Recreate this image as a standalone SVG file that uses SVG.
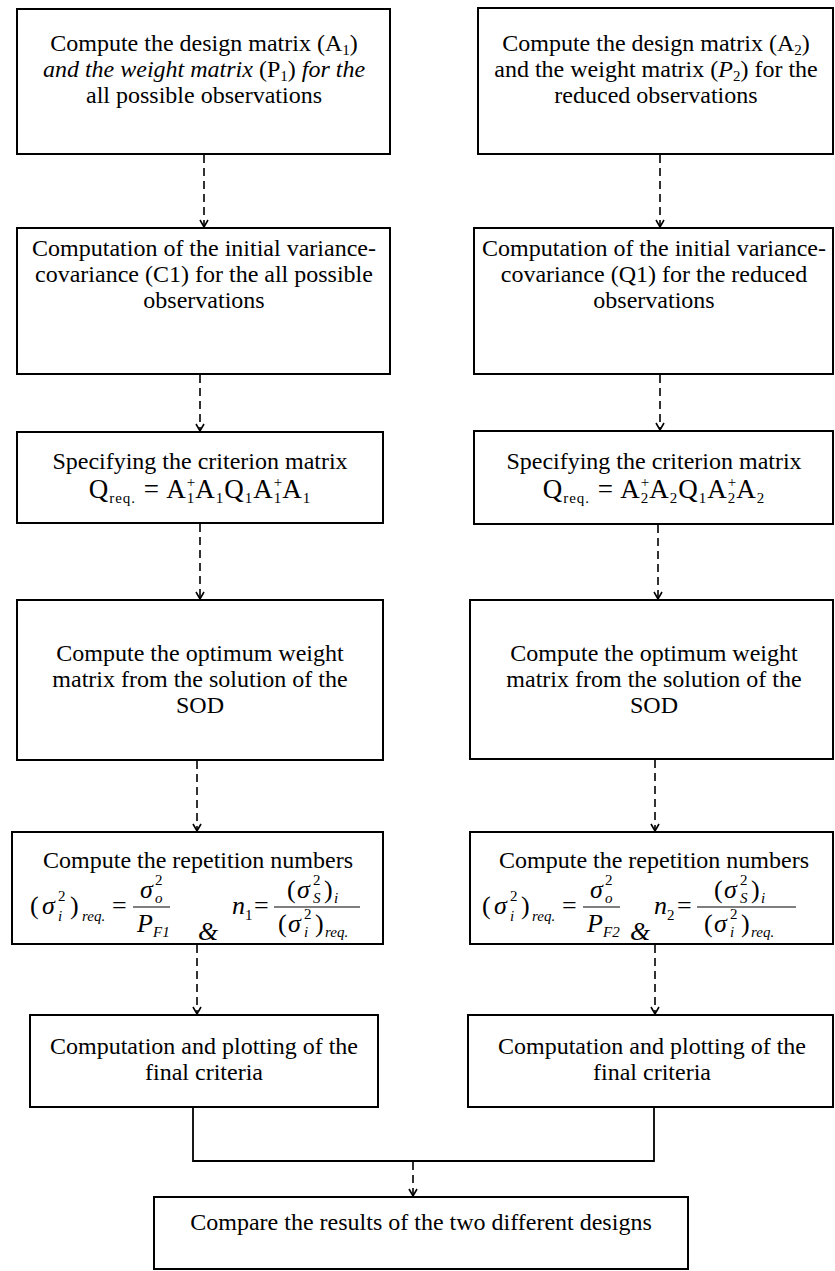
<svg xmlns="http://www.w3.org/2000/svg" width="835" height="1271" viewBox="0 0 835 1271">
<defs>
<marker id="ahd" markerUnits="userSpaceOnUse" markerWidth="12" markerHeight="10" refX="5" refY="8" orient="0" viewBox="0 0 10 10">
<path d="M1,1 L5,8 L9,1" fill="none" stroke="#000" stroke-width="1.6"/>
</marker>
</defs>
<style>
.box{fill:#fff;stroke:#000;stroke-width:2}
.t{font-family:"Liberation Serif","Times New Roman",serif;font-size:24px;fill:#000;text-anchor:middle}
.f{font-family:"Liberation Serif","Times New Roman",serif;font-size:27px;fill:#000;text-anchor:middle;letter-spacing:1px}
.m{font-family:"Liberation Serif","Times New Roman",serif;font-size:26px;fill:#000}
.i{font-style:italic}
.s{font-size:15px}
.dash{fill:none;stroke:#000;stroke-width:1.6;stroke-dasharray:8 5}
.solid{fill:none;stroke:#000;stroke-width:1.8}
.bar{stroke:#000;stroke-width:1.2}
</style>

<g id="connectors">
<line class="dash" x1="204" y1="155" x2="204" y2="227" marker-end="url(#ahd)"/>
<line class="dash" x1="660" y1="155" x2="660" y2="227" marker-end="url(#ahd)"/>
<line class="dash" x1="200" y1="375" x2="200" y2="431" marker-end="url(#ahd)"/>
<line class="dash" x1="660" y1="375" x2="660" y2="430" marker-end="url(#ahd)"/>
<line class="dash" x1="200" y1="524" x2="200" y2="599" marker-end="url(#ahd)"/>
<line class="dash" x1="658" y1="525" x2="658" y2="599" marker-end="url(#ahd)"/>
<line class="dash" x1="197" y1="761" x2="197" y2="831" marker-end="url(#ahd)"/>
<line class="dash" x1="655" y1="760" x2="655" y2="831" marker-end="url(#ahd)"/>
<line class="dash" x1="197" y1="945" x2="197" y2="1014" marker-end="url(#ahd)"/>
<line class="dash" x1="655" y1="945" x2="655" y2="1014" marker-end="url(#ahd)"/>
<polyline class="solid" points="193,1107 193,1161 654,1161 654,1107"/>
<line class="dash" x1="413" y1="1162" x2="413" y2="1196" marker-end="url(#ahd)"/>
</g>

<g id="n1L">
<rect class="box" x="17" y="9" width="373" height="145"/>
<text class="t" x="204" y="51">Compute the design matrix (A<tspan class="s" dy="4">1</tspan><tspan dy="-4">)</tspan></text>
<text class="t i" x="204" y="77">and the weight matrix <tspan font-style="normal">(P</tspan><tspan class="s" font-style="normal" dy="4">1</tspan><tspan font-style="normal" dy="-4">)</tspan> for the</text>
<text class="t" x="204" y="103">all possible observations</text>
</g>

<g id="n1R">
<rect class="box" x="478" y="8" width="355" height="146"/>
<text class="t" x="656" y="51">Compute the design matrix (A<tspan class="s" dy="4">2</tspan><tspan dy="-4">)</tspan></text>
<text class="t" x="656" y="77">and the weight matrix (<tspan class="i">P</tspan><tspan class="s" dy="4">2</tspan><tspan dy="-4">) for the</tspan></text>
<text class="t" x="656" y="103">reduced observations</text>
</g>

<g id="n2L">
<rect class="box" x="17" y="228" width="373" height="146"/>
<text class="t" x="204" y="256">Computation of the initial variance-</text>
<text class="t" x="204" y="282">covariance (C1) for the all possible</text>
<text class="t" x="204" y="308">observations</text>
</g>

<g id="n2R">
<rect class="box" x="474" y="228" width="359" height="146"/>
<text class="t" x="654" y="256">Computation of the initial variance-</text>
<text class="t" x="654" y="282">covariance (Q1) for the reduced</text>
<text class="t" x="654" y="308">observations</text>
</g>

<g id="n3L">
<rect class="box" x="17" y="432" width="366" height="91"/>
<text class="t" x="200" y="469">Specifying the criterion matrix</text>
<text class="f" x="200" y="498">Q<tspan class="s" dy="5">req.</tspan><tspan dy="-5"> = A</tspan><tspan class="s" dy="-11">+</tspan><tspan class="s" dx="-9.5" dy="16">1</tspan><tspan dy="-5">A</tspan><tspan class="s" dy="5">1</tspan><tspan dy="-5">Q</tspan><tspan class="s" dy="5">1</tspan><tspan dy="-5">A</tspan><tspan class="s" dy="-11">+</tspan><tspan class="s" dx="-9.5" dy="16">1</tspan><tspan dy="-5">A</tspan><tspan class="s" dy="5">1</tspan></text>
</g>

<g id="n3R">
<rect class="box" x="474" y="431" width="359" height="93"/>
<text class="t" x="654" y="469">Specifying the criterion matrix</text>
<text class="f" x="654" y="498">Q<tspan class="s" dy="5">req.</tspan><tspan dy="-5"> = A</tspan><tspan class="s" dy="-11">+</tspan><tspan class="s" dx="-9.5" dy="16">2</tspan><tspan dy="-5">A</tspan><tspan class="s" dy="5">2</tspan><tspan dy="-5">Q</tspan><tspan class="s" dy="5">1</tspan><tspan dy="-5">A</tspan><tspan class="s" dy="-11">+</tspan><tspan class="s" dx="-9.5" dy="16">2</tspan><tspan dy="-5">A</tspan><tspan class="s" dy="5">2</tspan></text>
</g>

<g id="n4L">
<rect class="box" x="17" y="600" width="366" height="160"/>
<text class="t" x="200" y="661">Compute the optimum weight</text>
<text class="t" x="200" y="687">matrix from the solution of the</text>
<text class="t" x="200" y="713">SOD</text>
</g>

<g id="n4R">
<rect class="box" x="470" y="600" width="363" height="159"/>
<text class="t" x="654" y="661">Compute the optimum weight</text>
<text class="t" x="654" y="687">matrix from the solution of the</text>
<text class="t" x="654" y="713">SOD</text>
</g>

<g id="n5L">
<rect class="box" x="12" y="832" width="371" height="112"/>
<text class="t" x="198" y="868">Compute the repetition numbers</text>
<text class="m" x="30" y="914">(</text>
<text class="m i" x="42" y="914">σ</text>
<text class="m s" x="58" y="901">2</text>
<text class="m s i" x="58" y="921">i</text>
<text class="m" x="70" y="914">)</text>
<text class="m s i" x="82" y="921">req.</text>
<text class="m" x="112" y="914">=</text>
<text class="m i" x="140" y="898">σ</text>
<text class="m s" x="155" y="885">2</text>
<text class="m s i" x="155" y="903">o</text>
<line class="bar" x1="133" y1="907" x2="170" y2="907"/>
<text class="m i" x="137" y="932">P</text>
<text class="m s i" x="153" y="937">F1</text>
<text class="m i" x="198" y="940" font-size="20">&amp;</text>
<text class="m i" x="232" y="914">n</text>
<text class="m s" x="245" y="920">1</text>
<text class="m" x="254" y="914">=</text>
<line class="bar" x1="274" y1="907" x2="360" y2="907"/>
<text class="m" x="287" y="898">(</text>
<text class="m i" x="297" y="898">σ</text>
<text class="m s" x="313" y="885">2</text>
<text class="m s i" x="313" y="903">S</text>
<text class="m" x="324" y="898">)</text>
<text class="m s i" x="334" y="903">i</text>
<text class="m" x="278" y="932">(</text>
<text class="m i" x="288" y="932">σ</text>
<text class="m s" x="304" y="919">2</text>
<text class="m s i" x="304" y="937">i</text>
<text class="m" x="315" y="932">)</text>
<text class="m s i" x="325" y="937">req.</text>
</g>

<g id="n5R">
<rect class="box" x="470" y="832" width="363" height="112"/>
<text class="t" x="654" y="868">Compute the repetition numbers</text>
<text class="m" x="482" y="914">(</text>
<text class="m i" x="494" y="914">σ</text>
<text class="m s" x="510" y="901">2</text>
<text class="m s i" x="510" y="921">i</text>
<text class="m" x="521" y="914">)</text>
<text class="m s i" x="532" y="921">req.</text>
<text class="m" x="562" y="914">=</text>
<text class="m i" x="590" y="898">σ</text>
<text class="m s" x="605" y="885">2</text>
<text class="m s i" x="605" y="903">o</text>
<line class="bar" x1="583" y1="907" x2="620" y2="907"/>
<text class="m i" x="587" y="932">P</text>
<text class="m s i" x="603" y="937">F2</text>
<text class="m i" x="630" y="940" font-size="20">&amp;</text>
<text class="m i" x="654" y="914">n</text>
<text class="m s" x="667" y="920">2</text>
<text class="m" x="677" y="914">=</text>
<line class="bar" x1="697" y1="907" x2="796" y2="907"/>
<text class="m" x="714" y="898">(</text>
<text class="m i" x="724" y="898">σ</text>
<text class="m s" x="740" y="885">2</text>
<text class="m s i" x="740" y="903">S</text>
<text class="m" x="751" y="898">)</text>
<text class="m s i" x="761" y="903">i</text>
<text class="m" x="704" y="932">(</text>
<text class="m i" x="714" y="932">σ</text>
<text class="m s" x="730" y="919">2</text>
<text class="m s i" x="730" y="937">i</text>
<text class="m" x="741" y="932">)</text>
<text class="m s i" x="751" y="937">req.</text>
</g>

<g id="n6L">
<rect class="box" x="30" y="1015" width="348" height="92"/>
<text class="t" x="204" y="1054">Computation and plotting of the</text>
<text class="t" x="204" y="1080">final criteria</text>
</g>

<g id="n6R">
<rect class="box" x="468" y="1015" width="365" height="92"/>
<text class="t" x="652" y="1054">Computation and plotting of the</text>
<text class="t" x="652" y="1080">final criteria</text>
</g>

<g id="n7">
<rect class="box" x="154" y="1197" width="534" height="72"/>
<text class="t" x="421" y="1230">Compare the results of the two different designs</text>
</g>
</svg>
